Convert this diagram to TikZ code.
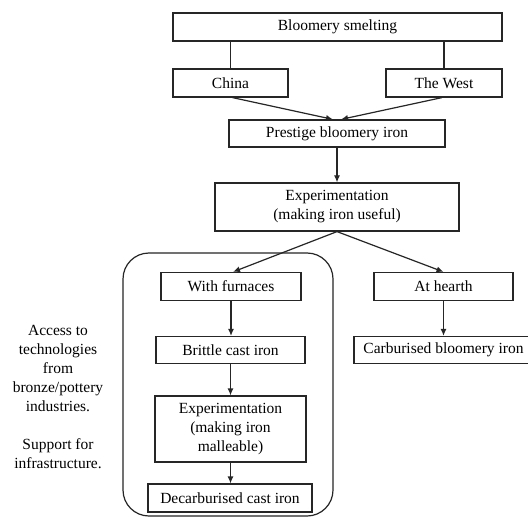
\documentclass[tikz,border=0pt]{standalone}
\usepackage{fontspec}
\setmainfont{Liberation Serif}
\usetikzlibrary{arrows.meta}
\begin{document}
\begin{tikzpicture}[x=1bp,y=-1bp,
  box/.style={draw=black!85,line width=1.2bp,inner sep=0pt,align=center,
    font=\fontsize{15.5bp}{19bp}\selectfont},
  conn/.style={draw=black!85,line width=1.2bp},
  arr/.style={conn,-{Latex[length=7bp,width=6bp]}},
  note/.style={inner sep=0pt,align=center,font=\fontsize{15.5bp}{19bp}\selectfont}]
\useasboundingbox (0,0) rectangle (528,517);
\fill[white] (0,0) rectangle (528,517);
% group frame
\draw[conn,rounded corners=26bp] (123,253) rectangle (333,516);
% nodes
\node[box,minimum width=329bp,minimum height=28bp] (bloom) at (337.5,27) {Bloomery smelting};
\node[box,minimum width=115bp,minimum height=28bp] (china) at (230.5,83) {China};
\node[box,minimum width=116bp,minimum height=28bp] (west) at (444,83) {The West};
\node[box,minimum width=216bp,minimum height=27bp] (prest) at (337,133.5) {Prestige bloomery iron};
\node[box,minimum width=244bp,minimum height=48bp] (expa) at (337,207) {Experimentation\\(making iron useful)};
\node[box,minimum width=140bp,minimum height=28bp] (furn) at (231,286.5) {With furnaces};
\node[box,minimum width=139bp,minimum height=28bp] (hearth) at (443.5,286.5) {At hearth};
\node[box,minimum width=149bp,minimum height=27bp] (brittle) at (230.5,350) {Brittle cast iron};
\node[box,minimum width=191bp,minimum height=27bp] (carb) at (449.5,350) {Carburised bloomery iron\hspace*{12bp}};
\node[box,minimum width=151bp,minimum height=66bp] (expb) at (230.5,429) {Experimentation\\(making iron\\malleable)};
\node[box,minimum width=164bp,minimum height=28bp] (decarb) at (230,498) {Decarburised cast iron};
\node[note] (notea) at (58,368) {Access to\\technologies\\from\\bronze/pottery\\industries.};
\node[note] (noteb) at (58,453.5) {Support for\\infrastructure.};
% connectors
\draw[conn] (bloom.south -| china) -- (china.north);
\draw[conn] (bloom.south -| west) -- (west.north);
\coordinate (pl) at ([xshift=-4bp]prest.north);
\coordinate (pr) at ([xshift=4bp]prest.north);
\draw[arr] ([xshift=2bp]china.south) -- (pl);
\draw[arr] ([xshift=-2bp]west.south) -- (pr);
\draw[arr] (prest.south) -- (expa.north);
\draw[arr] (expa.south) -- ([xshift=2bp]furn.north);
\draw[arr] (expa.south) -- (hearth.north);
\draw[arr] (furn.south) -- (brittle.north -| furn.south);
\draw[arr] (hearth.south) -- (hearth.south |- carb.north);
\draw[arr] (brittle.south) -- (expb.north -| brittle.south);
\draw[arr] (expb.south) -- (decarb.north -| expb.south);
\end{tikzpicture}
\end{document}
